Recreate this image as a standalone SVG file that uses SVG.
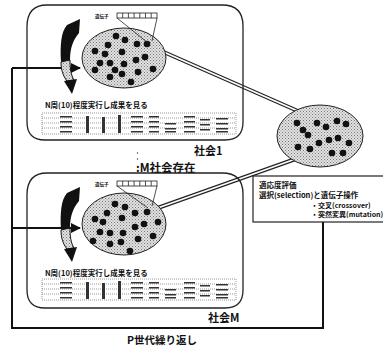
<svg xmlns="http://www.w3.org/2000/svg" width="383" height="350" viewBox="0 0 383 350">
<style>
text{font-family:"Noto Sans CJK JP","Liberation Sans",sans-serif;font-weight:bold;fill:#111}
.box{fill:none;stroke:#222;stroke-width:1.3}
.pop{fill:url(#stip);stroke:#222;stroke-width:1}
.dot{fill:#111}
.loop{fill:none;stroke:#111;stroke-width:2}
.dbl-o{stroke:#222;stroke-width:4;fill:none}
.dbl-i{stroke:#fff;stroke-width:1.8;fill:none}
.gene{fill:#fff;stroke:#222;stroke-width:0.8}
.thin{stroke:#222;stroke-width:0.8;fill:none}
.tbl{fill:none;stroke:#555;stroke-width:0.6;stroke-dasharray:1 1}
.blk{fill:#333}
</style>
<defs>
<pattern id="stip" width="3" height="3" patternUnits="userSpaceOnUse">
<rect width="3" height="3" fill="#e2e2e2"/>
<rect x="0" y="0" width="1" height="1" fill="#777"/>
<rect x="1.5" y="1.5" width="1" height="1" fill="#888"/>
</pattern>
<marker id="ah" viewBox="0 0 10 10" refX="9" refY="5" markerWidth="5" markerHeight="5" orient="auto">
<path d="M0,0 L10,5 L0,10 Z" fill="#111"/>
</marker>
<g id="genebar">
<rect class="gene" x="117" y="0" width="40" height="5"/>
<path class="thin" d="M122.7,0 V5 M128.4,0 V5 M134.1,0 V5 M139.8,0 V5 M145.5,0 V5 M151.2,0 V5"/>
</g>
<g id="curl">
<path d="M80,19 L79,33 C73,40 70,48 70,60 L61,62 C60,45 61,32 67,25 Z" fill="#111"/>
<path d="M61,62 L70,60 C70,69 71,75 74,80 L67,81 C63,76 61,70 61,62 Z" fill="url(#stip)" stroke="#111" stroke-width="1"/>
<path d="M77,79 L72,94 L64,81 Z" fill="#111"/>
</g>
<g id="table">
<rect class="tbl" x="42" y="0" width="194" height="21"/>
<path class="tbl" d="M42,5 H236 M42,10 H236 M42,15 H236"/>
<g class="blk">
<rect x="60" y="3" width="12" height="1.5"/><rect x="60" y="8" width="12" height="1.5"/><rect x="60" y="13" width="12" height="1.5"/><rect x="60" y="18" width="12" height="1.5"/>
<rect x="86" y="3" width="3" height="17"/>
<rect x="102" y="4" width="3" height="16"/>
<rect x="118" y="2" width="3" height="18"/>
<rect x="131" y="3" width="12" height="1.5"/><rect x="131" y="8" width="12" height="1.5"/><rect x="131" y="13" width="12" height="1.5"/><rect x="131" y="18" width="12" height="1.5"/>
<rect x="149" y="3" width="10" height="1.5"/><rect x="149" y="8" width="10" height="1.5"/><rect x="149" y="13" width="10" height="1.5"/><rect x="149" y="18" width="10" height="1.5"/>
<rect x="165" y="10" width="11" height="1.5"/><rect x="165" y="15" width="11" height="1.5"/><rect x="165" y="18" width="11" height="1.5"/>
<rect x="184" y="3" width="11" height="1.5"/><rect x="184" y="8" width="11" height="1.5"/><rect x="184" y="13" width="11" height="1.5"/><rect x="184" y="18" width="11" height="1.5"/>
<rect x="200" y="6" width="10" height="1.5"/><rect x="200" y="11" width="10" height="1.5"/><rect x="200" y="16" width="10" height="1.5"/>
<rect x="216" y="5" width="12" height="1.5"/><rect x="216" y="10" width="12" height="1.5"/><rect x="216" y="15" width="12" height="1.5"/><rect x="216" y="18" width="12" height="1.5"/>
</g>
</g>
</defs>

<g id="connectors">
<path class="loop" d="M12,68 V328 H323 V222"/>
<path class="loop" d="M12,68 H80" marker-end="url(#ah)"/>
<path class="loop" d="M12,228 H80" marker-end="url(#ah)"/>
<path class="dbl-o" d="M150,46 L316,119"/>
<path class="dbl-i" d="M150,46 L316,119"/>
<path class="dbl-o" d="M152,210 L318,151"/>
<path class="dbl-i" d="M152,210 L318,151"/>
</g>

<g id="society1">
<path class="box" d="M47,5 H222 Q243,5 243,26 V122 Q243,140 225,140 H45 Q27,140 27,122 V27 Q27,5 47,5 Z"/>
<use href="#curl"/>
<ellipse class="pop" cx="124" cy="58" rx="42" ry="30"/>
<g class="dot">
<circle cx="116" cy="36" r="3.3"/><circle cx="125" cy="40" r="3.3"/><circle cx="108" cy="45" r="3.3"/><circle cx="137" cy="44" r="3.3"/><circle cx="147" cy="44" r="3.3"/>
<circle cx="95" cy="51" r="3.3"/><circle cx="105" cy="54" r="3.3"/><circle cx="122" cy="52" r="3.3"/><circle cx="145" cy="57" r="3.3"/>
<circle cx="100" cy="63" r="3.3"/><circle cx="110" cy="63" r="3.3"/><circle cx="124" cy="64" r="3.3"/><circle cx="136" cy="60" r="3.3"/><circle cx="153" cy="69" r="3.3"/>
<circle cx="115" cy="70" r="3.3"/><circle cx="138" cy="72" r="3.3"/><circle cx="110" cy="77" r="3.3"/><circle cx="122" cy="74" r="3.3"/><circle cx="131" cy="82" r="3.3"/><circle cx="95" cy="70" r="3.3"/>
</g>
<text x="95" y="18" font-size="4.5">遺伝子</text>
<use href="#genebar" y="13"/>
<path class="thin" d="M117,18 L148,43 M157,18 L152,41"/>
<text x="45" y="108" font-size="7.5">N周(10)程度実行し成果を見る</text>
<use href="#table" y="113"/>
<text x="194" y="155" font-size="11">社会1</text>
</g>

<g id="mlabel">
<circle cx="137.5" cy="153" r="0.7" fill="#333"/>
<circle cx="137.5" cy="159" r="0.7" fill="#333"/>
<text x="136" y="172" font-size="11.5">:M社会存在</text>
</g>

<g id="societyM">
<path class="box" d="M47,173 H222 Q243,173 243,194 V290 Q243,308 225,308 H45 Q27,308 27,290 V195 Q27,173 47,173 Z"/>
<use href="#curl" transform="translate(0,168)"/>
<ellipse class="pop" cx="124" cy="224" rx="42" ry="31"/>
<g class="dot">
<circle cx="115" cy="204" r="3.3"/><circle cx="125" cy="207" r="3.3"/><circle cx="107" cy="213" r="3.3"/><circle cx="135" cy="213" r="3.3"/><circle cx="147" cy="212" r="3.3"/>
<circle cx="95" cy="219" r="3.3"/><circle cx="103" cy="222" r="3.3"/><circle cx="122" cy="218" r="3.3"/><circle cx="144" cy="224" r="3.3"/><circle cx="158" cy="222" r="3.3"/>
<circle cx="100" cy="232" r="3.3"/><circle cx="110" cy="233" r="3.3"/><circle cx="123" cy="233" r="3.3"/><circle cx="135" cy="227" r="3.3"/><circle cx="153" cy="236" r="3.3"/>
<circle cx="138" cy="239" r="3.3"/><circle cx="110" cy="244" r="3.3"/><circle cx="121" cy="242" r="3.3"/><circle cx="130" cy="251" r="3.3"/><circle cx="93" cy="241" r="3.3"/>
</g>
<text x="95" y="186" font-size="4.5">遺伝子</text>
<use href="#genebar" y="181"/>
<path class="thin" d="M117,186 L148,208 M157,186 L152,206"/>
<text x="45" y="276" font-size="7.5">N周(10)程度実行し成果を見る</text>
<use href="#table" y="279"/>
<text x="208" y="322" font-size="11">社会M</text>
</g>

<g id="evalpop">
<ellipse class="pop" cx="320" cy="136" rx="43" ry="31"/>
<g class="dot">
<circle cx="297" cy="123" r="3.3"/><circle cx="317" cy="123" r="3.3"/><circle cx="337" cy="121" r="3.3"/><circle cx="346" cy="124" r="3.3"/><circle cx="326" cy="127" r="3.3"/>
<circle cx="303" cy="130" r="3.3"/><circle cx="308" cy="135" r="3.3"/><circle cx="329" cy="140" r="3.3"/><circle cx="338" cy="138" r="3.3"/><circle cx="349" cy="143" r="3.3"/>
<circle cx="319" cy="143" r="3.3"/><circle cx="298" cy="147" r="3.3"/><circle cx="310" cy="149" r="3.3"/><circle cx="332" cy="153" r="3.3"/><circle cx="343" cy="153" r="3.3"/>
</g>
</g>

<g id="infobox">
<rect x="253" y="176" width="140" height="46" fill="#fff" stroke="#222" stroke-width="1.2"/>
<text x="259" y="188" font-size="7.5">適応度評価</text>
<text x="259" y="198" font-size="7.5">選択(selection)と遺伝子操作</text>
<text x="311" y="208" font-size="7">・交叉(crossover)</text>
<text x="311" y="217" font-size="7">・突然変異(mutation)</text>
</g>

<g id="plabel">
<text x="127" y="344" font-size="10.5">P世代繰り返し</text>
</g>
</svg>
